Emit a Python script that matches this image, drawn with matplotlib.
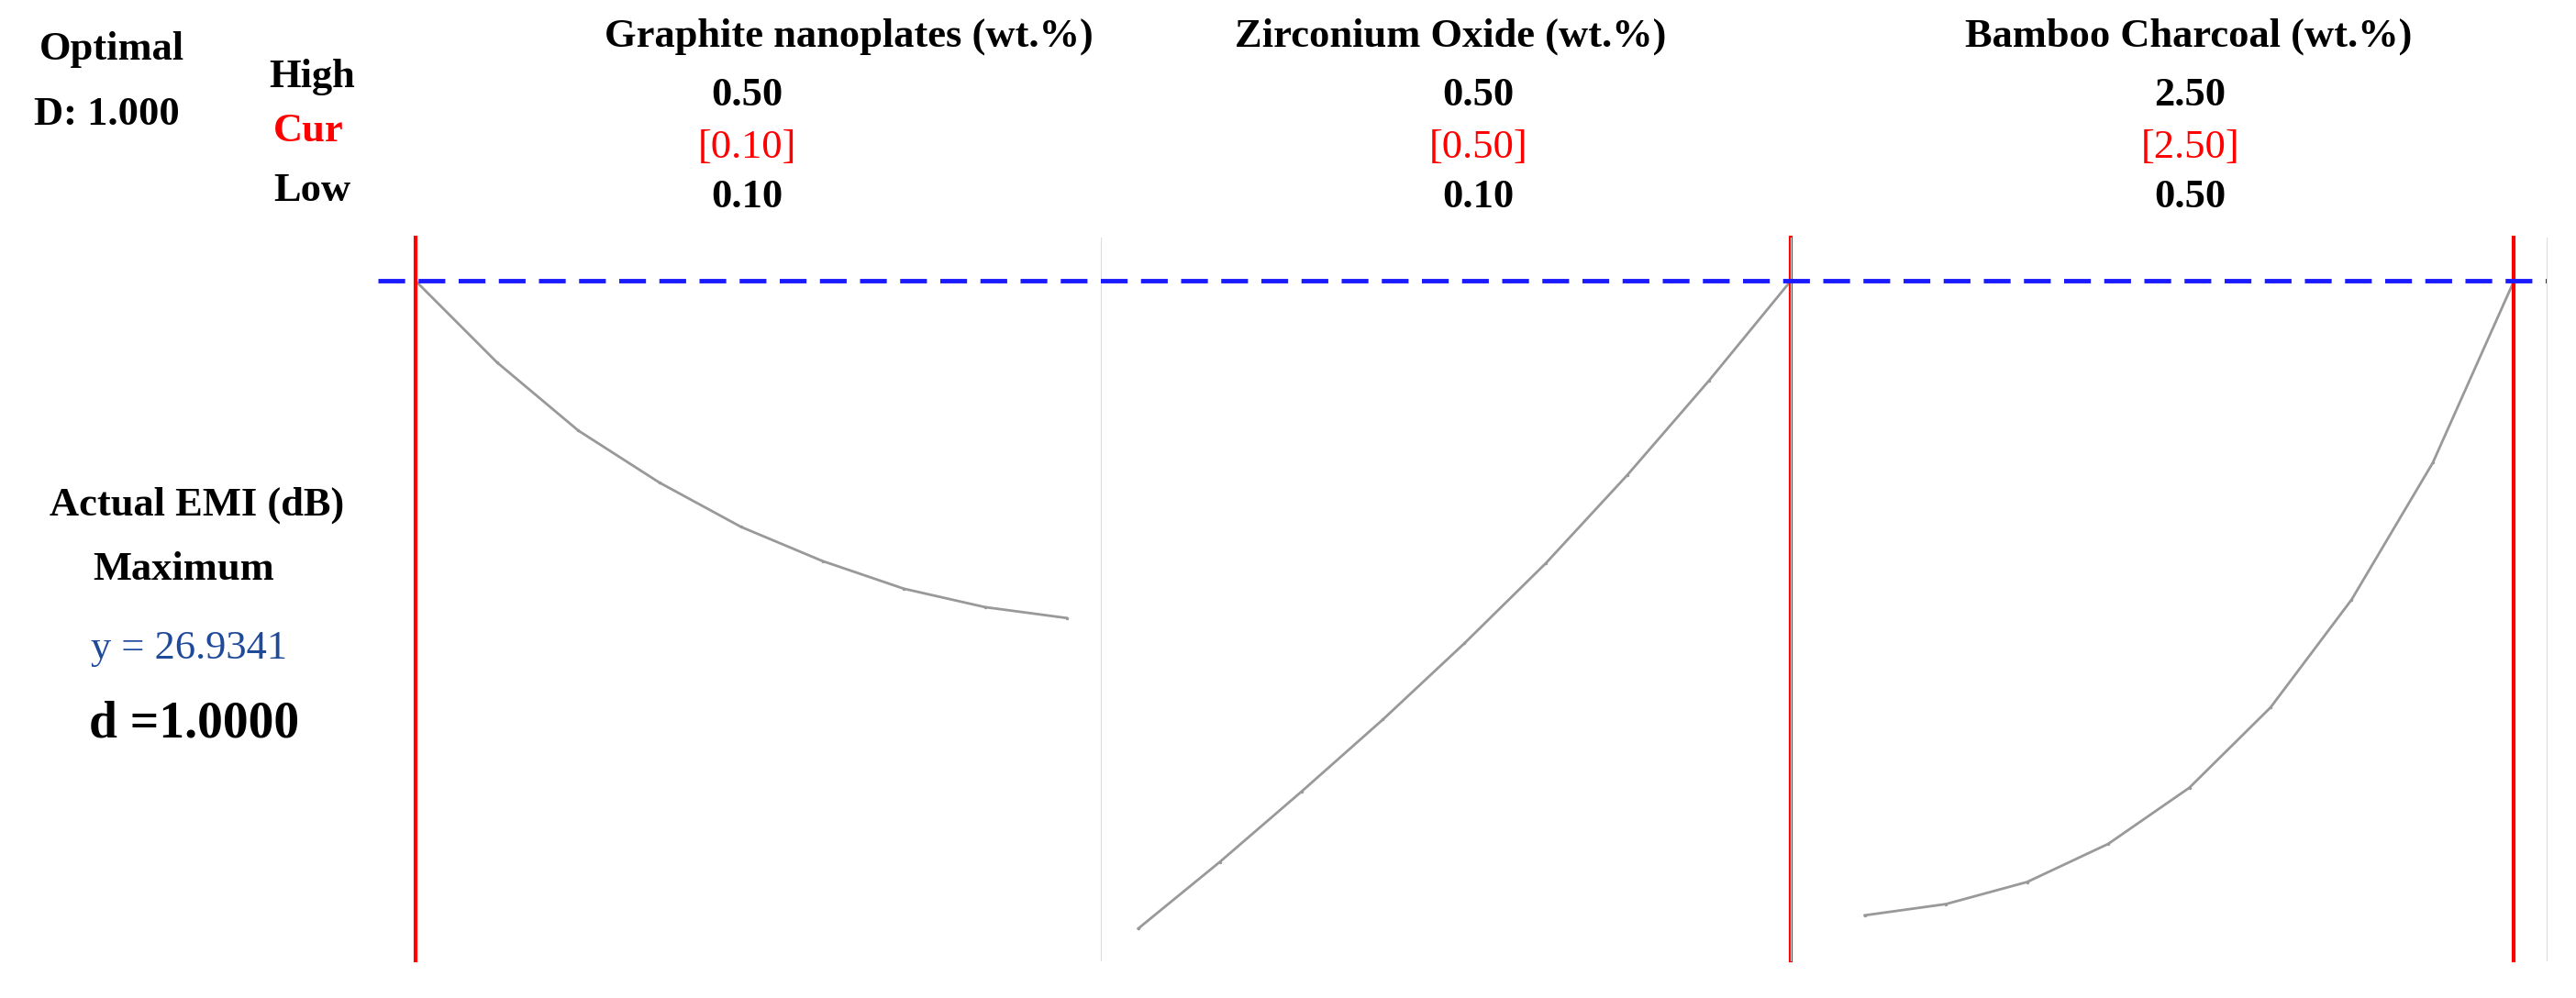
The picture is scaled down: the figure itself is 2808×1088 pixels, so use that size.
import matplotlib
matplotlib.use("Agg")
from matplotlib import pyplot as plt

# factor names and levels
factors = ["Graphite nanoplates (wt.%)", "Zirconium Oxide (wt.%)", "Bamboo Charcoal (wt.%)"]
high = ["0.50", "0.50", "2.50"]
cur = ["[0.10]", "[0.50]", "[2.50]"]
low = ["0.10", "0.10", "0.50"]
current = [0.10, 0.50, 2.50]

# response curves (Actual EMI, dB)
gn_x = [0.10, 0.15, 0.20, 0.25, 0.30, 0.35, 0.40, 0.45, 0.50]
gn_y = [26.93, 24.9, 23.2, 21.9, 20.8, 19.95, 19.26, 18.8, 18.53]
zr_x = [0.10, 0.15, 0.20, 0.25, 0.30, 0.35, 0.40, 0.45, 0.50]
zr_y = [10.79, 12.45, 14.2, 16.0, 17.9, 19.9, 22.1, 24.45, 26.93]
bc_x = [0.50, 0.75, 1.00, 1.25, 1.50, 1.75, 2.00, 2.25, 2.50]
bc_y = [11.12, 11.4, 11.95, 12.9, 14.3, 16.3, 18.99, 22.4, 26.93]
y_opt = 26.9341

W, H = 1568.0, 608.0
fig = plt.figure(figsize=(28.08, 10.88), dpi=100)
plt.rcParams['font.family'] = ['Liberation Serif', 'DejaVu Serif']

panels = [(253, 670, (0.10, 0.521), gn_x, gn_y),
          (670, 1090, (0.077, 0.50), zr_x, zr_y),
          (1110, 1550, (0.373, 2.60), bc_x, bc_y)]
top, bot = 145, 585
for i, (l, r, xl, xs, ys) in enumerate(panels):
    ax = fig.add_axes([l / W, 1 - bot / H, (r - l) / W, (bot - top) / H])
    ax.set_xlim(*xl)
    ax.set_ylim(10, 28)
    ax.plot(xs, ys, color="#999999", lw=2, marker='.', ms=3)
    ax.axvline(current[i], color="red", lw=3, clip_on=False)
    for s in ax.spines.values():
        s.set_visible(False)
    ax.spines['right'].set_visible(True)
    ax.spines['right'].set_color("#dddddd")
    ax.set_xticks([])
    ax.set_yticks([])
    ax.patch.set_alpha(0)

# dashed optimum line across all panels
dax = fig.add_axes([230 / W, 1 - bot / H, (1550 - 230) / W, (bot - top) / H])
dax.set_ylim(10, 28)
dax.axhline(y_opt, color="#1a1aff", lw=3.5, ls=(0, (6, 3)))
dax.axis("off")

def t(x, y, s, **kw):
    kw.setdefault("fontsize", 32)
    kw.setdefault("fontweight", "bold")
    fig.text(x / W, 1 - y / H, s, ha="center", va="center", **kw)

t(68, 30, "Optimal")
t(65, 70, "D: 1.000")
t(190, 47, "High")
t(188, 80, "Cur", color="red")
t(190, 116, "Low")
for cx, vx, name, h, c, lo in zip([517, 883, 1332], [455, 900, 1333], factors, high, cur, low):
    t(cx, 22, name)
    t(vx, 58, h)
    t(vx, 90, c, color="red", fontweight="normal")
    t(vx, 120, lo)
t(120, 308, "Actual EMI (dB)")
t(112, 347, "Maximum")
t(115, 395, "y = 26.9341", color="#1f4a9a", fontweight="normal")
t(118, 441, "d =1.0000", fontsize=40)

fig.savefig("out.png", dpi=100)
